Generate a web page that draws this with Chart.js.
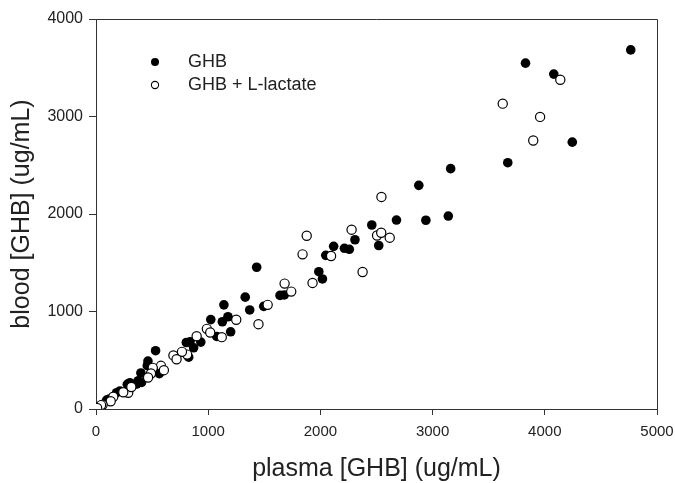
<!DOCTYPE html>
<html>
<head>
<meta charset="utf-8">
<script src="https://cdn.jsdelivr.net/npm/chart.js@4/dist/chart.umd.min.js"></script>
<style>
  html, body { margin: 0; padding: 0; background: #fff; }
  #wrap { width: 675px; height: 483px; }
</style>
</head>
<body>
<div id="wrap"><canvas id="chart" width="675" height="483"></canvas></div>
<script>
// GHB alone (filled circles)
const plasmaGhb = [4766, 3828, 4080, 4245, 3670, 3161, 2877, 3140, 2940, 2678, 2458, 2520, 2308, 2214, 2258, 2118, 2048, 1986, 2018, 1432, 1330, 1370, 1140, 1126, 1176, 1023, 1076, 1200, 1640, 1678, 1495, 934, 805, 838, 870, 826, 531, 463, 457, 400, 564, 377, 406, 279, 302, 338, 362, 184, 214, 95, 119, 50];
const bloodGhb  = [3683, 3547, 3435, 2737, 2526, 2465, 2294, 1979, 1936, 1938, 1887, 1677, 1736, 1648, 1638, 1668, 1576, 1408, 1334, 1454, 1147, 1016, 1068, 895, 946, 917, 744, 792, 1165, 1170, 1053, 686, 682, 689, 628, 532, 598, 492, 444, 370, 362, 290, 273, 253, 270, 249, 256, 167, 185, 92, 103, 34];

// GHB + L-lactate (open circles)
const plasmaLact = [4138, 3625, 3958, 3897, 2544, 2278, 2505, 2542, 2618, 1878, 1841, 2095, 2376, 1930, 1681, 1740, 1530, 1448, 1250, 988, 1018, 897, 1121, 812, 766, 690, 718, 579, 605, 506, 490, 464, 287, 315, 243, 154, 131, 59, 45, 10];
const bloodLact  = [3377, 3132, 2996, 2754, 2175, 1839, 1780, 1808, 1757, 1777, 1586, 1569, 1405, 1293, 1286, 1204, 1068, 870, 915, 822, 785, 746, 737, 558, 586, 550, 510, 443, 398, 422, 364, 323, 167, 225, 171, 126, 79, 44, 40, 10];

const seriesNames = ['GHB', 'GHB + L-lactate'];
const xTicks = [0, 1000, 2000, 3000, 4000, 5000];
const yTicks = [0, 1000, 2000, 3000, 4000];

const toPoints = (xs, ys) => xs.map((x, i) => ({ x: x, y: ys[i] }));

const FONT = "'Liberation Sans', Arial, sans-serif";
const INK = '#222';
const LINE = '#333';

// box around the plot + legend inside the plot
const frameAndLegend = {
    id: 'frameAndLegend',
    afterDraw(chart) {
        const { ctx, chartArea: a } = chart;
        ctx.save();
        ctx.strokeStyle = LINE;
        ctx.lineWidth = 1;
        ctx.beginPath();
        ctx.moveTo(a.left, a.top + 0.5);
        ctx.lineTo(a.right + 0.5, a.top + 0.5);
        ctx.lineTo(a.right + 0.5, a.bottom);
        ctx.stroke();

        // legend
        const lx = 155, rows = [62, 85], tx = 188;
        ctx.beginPath();
        ctx.arc(lx, rows[0], 4, 0, Math.PI * 2);
        ctx.fillStyle = '#000';
        ctx.fill();
        ctx.beginPath();
        ctx.arc(lx, rows[1], 3.6, 0, Math.PI * 2);
        ctx.fillStyle = '#fff';
        ctx.fill();
        ctx.strokeStyle = '#000';
        ctx.lineWidth = 1.1;
        ctx.stroke();

        ctx.fillStyle = INK;
        ctx.font = '18px ' + FONT;
        ctx.textBaseline = 'middle';
        ctx.textAlign = 'left';
        ctx.fillText(seriesNames[0], tx, rows[0]);
        ctx.fillText(seriesNames[1], tx, rows[1]);
        ctx.restore();
    }
};

new Chart(document.getElementById('chart'), {
    type: 'scatter',
    data: {
        datasets: [
            {
                label: seriesNames[1],
                data: toPoints(plasmaLact, bloodLact),
                pointRadius: 4.6,
                pointBackgroundColor: '#fff',
                pointBorderColor: '#000',
                pointBorderWidth: 1.2,
                order: 0
            },
            {
                label: seriesNames[0],
                data: toPoints(plasmaGhb, bloodGhb),
                pointRadius: 4.8,
                pointBackgroundColor: '#000',
                pointBorderColor: '#000',
                pointBorderWidth: 0,
                order: 1
            }
        ]
    },
    options: {
        responsive: false,
        animation: false,
        layout: { padding: { left: 0, right: 18, top: 19, bottom: 0 } },
        plugins: { legend: { display: false }, tooltip: { enabled: false } },
        scales: {
            x: {
                type: 'linear',
                min: 0, max: 5000,
                afterBuildTicks: s => { s.ticks = xTicks.map(v => ({ value: v })); },
                afterFit: s => { s.height = 74; s.paddingLeft = 0; s.paddingRight = 0; },
                grid: { display: true, drawOnChartArea: false, drawTicks: true, tickLength: 6, color: LINE },
                border: { display: true, color: LINE, width: 1 },
                ticks: {
                    color: INK, padding: 8, maxRotation: 0, font: { family: FONT, size: 15 },
                    callback: v => String(v)
                },
                title: {
                    display: true, text: 'plasma [GHB] (ug/mL)', color: INK,
                    font: { family: FONT, size: 25, lineHeight: 1 }, padding: { top: 0, bottom: 1 }
                }
            },
            y: {
                type: 'linear',
                min: 0, max: 4000,
                afterBuildTicks: s => { s.ticks = yTicks.map(v => ({ value: v })); },
                afterFit: s => { s.width = 96; s.paddingTop = 0; s.paddingBottom = 0; },
                grid: { display: true, drawOnChartArea: false, drawTicks: true, tickLength: 7, color: LINE },
                border: { display: true, color: LINE, width: 1 },
                ticks: {
                    color: INK, padding: 6, font: { family: FONT, size: 16 },
                    callback: v => String(v)
                },
                title: {
                    display: true, text: 'blood [GHB] (ug/mL)', color: INK,
                    font: { family: FONT, size: 25, lineHeight: 1 }, padding: { top: 10, bottom: 0 }
                }
            }
        }
    },
    plugins: [frameAndLegend]
});
</script>
</body>
</html>
